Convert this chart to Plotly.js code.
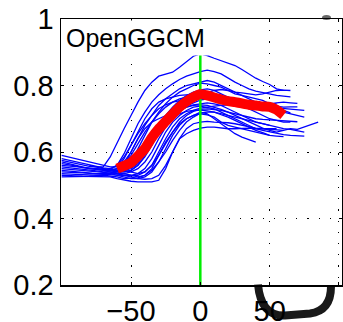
<!DOCTYPE html>
<html>
<head>
<meta charset="utf-8">
<script src="https://cdn.plot.ly/plotly-3.0.1.min.js"></script>
<style>html,body{margin:0;padding:0;background:#fff;}#chart{width:343px;height:322px;}</style>
</head>
<body>
<div id="chart"></div>
<script>
// ---- data ----
const panelLabel = "OpenGGCM";
const xTickVals = [-50, 0, 50, 100];
const xTickText = ["\u221250", "0", "50", ""];
const yTickVals = [0.2, 0.4, 0.6, 0.8, 1];
const yTickText = ["0.2", "0.4", "0.6", "0.8", "1"];
const sampleStep = 5;

// start time of each blue event curve (samples every 5 units)
const blueStarts = [-100, -100, -100, -80, -100, -70, -100, -100, -65, -100,
                    -100, -75, -100, -60, -100, -65, -100, -70, -100, -100];

const b01 = [.575,.57,.565,.56,.557,.555,.555,.585,.63,.67,.71,.75,.785,.81,.828,.835,.84,.855,.872,.888,.895,.89,.882,.875,.866,.86,.848,.835,.822,.812,.803,.79,.785];
const b02 = [.565,.562,.558,.553,.55,.548,.545,.548,.56,.595,.64,.685,.72,.75,.772,.79,.805,.818,.828,.836,.842,.846,.842,.835,.822,.81,.80,.79,.783,.778,.773,.77,.768,.766];
const b03 = [.59,.585,.58,.575,.57,.565,.56,.555,.555,.57,.60,.64,.68,.71,.74,.76,.775,.79,.80,.805,.81,.815,.81,.80,.79,.78,.77,.76,.75,.745,.74,.738,.735,.736,.736];
const b04 = [.56,.555,.55,.545,.545,.55,.57,.61,.65,.69,.72,.745,.765,.78,.79,.80,.807,.805,.80,.795,.785,.775,.77,.765,.76,.755,.745,.735,.725,.718];
const b05 = [.58,.575,.57,.565,.56,.555,.552,.55,.545,.545,.55,.565,.60,.64,.68,.71,.735,.755,.77,.78,.787,.79,.785,.775,.765,.755,.74,.73,.72,.71,.70,.695,.69,.69];
const b06 = [.55,.548,.545,.54,.545,.56,.59,.63,.665,.69,.71,.725,.735,.74,.742,.74,.735,.728,.72,.71,.70,.69,.68,.672,.665,.66,.665,.67,.668,.675,.682,.69];
const b07 = [.555,.553,.55,.548,.545,.543,.54,.54,.535,.53,.53,.535,.55,.58,.62,.66,.69,.71,.725,.735,.738,.735,.73,.72,.71,.70,.69,.68,.67,.665,.66,.655,.652,.65,.648,.648];
const b08 = [.545,.543,.54,.54,.538,.535,.535,.535,.53,.525,.52,.52,.525,.54,.57,.61,.65,.68,.70,.71,.715,.712,.705,.69,.68,.675,.67,.665,.66,.655,.65,.648,.646];
const b09 = [.55,.54,.535,.53,.525,.53,.55,.59,.63,.66,.685,.70,.71,.72,.715,.70,.685,.67,.655,.645,.638,.63];
const b10 = [.53,.53,.528,.527,.527,.527,.525,.525,.52,.515,.512,.51,.51,.51,.515,.55,.60,.64,.655,.665,.672,.675,.675,.672,.67,.67,.672,.672,.67,.67,.67,.67];
const b11 = [.525,.525,.525,.526,.527,.528,.53,.535,.54,.56,.60,.64,.67,.69,.70,.71,.72,.73,.74,.748,.756,.76,.758,.755,.752,.748,.745,.74,.738,.735,.733,.732,.73,.728,.726,.725];
const b12 = [.55,.548,.545,.55,.58,.62,.66,.70,.73,.75,.76,.765,.77,.772,.774,.775,.778,.785,.788,.785,.78,.778,.775,.772,.775,.78,.785,.786,.785];
const b13 = [.57,.565,.56,.555,.55,.548,.545,.543,.54,.54,.545,.56,.585,.62,.655,.685,.71,.725,.735,.742,.746,.748,.745,.74,.73,.72,.71,.70,.69,.685,.68];
const b14 = [.55,.545,.54,.535,.54,.56,.60,.64,.675,.70,.715,.725,.732,.736,.738,.74,.742,.745,.745,.742,.738,.735,.73,.725,.72,.715,.71,.705];
const b15 = [.535,.535,.533,.532,.53,.53,.53,.528,.525,.52,.52,.522,.53,.545,.57,.60,.635,.665,.69,.705,.717,.72,.72,.715,.71,.705,.70,.695,.69,.685,.68,.675,.67,.668,.665,.66];
const b16 = [.55,.56,.585,.62,.655,.685,.71,.73,.742,.75,.755,.758,.76,.76,.762,.76,.758,.755,.752,.75,.748,.745,.745,.745,.748,.75,.748,.746];
const b17 = [.55,.548,.547,.545,.543,.54,.538,.537,.535,.535,.54,.55,.57,.60,.64,.675,.70,.715,.722,.725,.726,.724,.72,.712,.705,.695,.685,.675,.665,.658,.65];
const b18 = [.545,.54,.535,.53,.525,.52,.518,.52,.53,.56,.60,.64,.67,.685,.69,.692,.69,.69,.688,.685,.68,.675,.672,.67,.668,.666,.665];
const b19 = [.56,.558,.556,.554,.552,.55,.548,.546,.55,.565,.59,.625,.66,.69,.715,.735,.75,.76,.765,.766,.766,.768,.77,.768,.765,.76,.755,.752,.75,.748,.746,.745];
const b20 = [.54,.54,.538,.537,.535,.534,.533,.532,.53,.528,.528,.53,.54,.56,.59,.625,.66,.69,.71,.722,.728,.73,.728,.725,.72,.715,.71,.705,.70,.698,.697,.696,.695,.693,.691];

// mean curve (red)
const meanX = [-60,-55,-50,-45,-40,-35,-30,-25,-20,-15,-10,-5,0,5,10,15,20,25,30,35,40,45,50,55,60];
const meanY = [.550,.558,.568,.588,.610,.643,.670,.692,.714,.735,.752,.765,.774,.770,.764,.758,.753,.750,.746,.742,.740,.737,.736,.727,.711];

// epoch marker (green)
const epochX = [0, 0];
const epochY = [0.2, 1];

// ---- build ----
const blueSeries = [b01,b02,b03,b04,b05,b06,b07,b08,b09,b10,b11,b12,b13,b14,b15,b16,b17,b18,b19,b20];
const traces = [];
blueSeries.forEach((ys, i) => {
  const xs = ys.map((_, j) => blueStarts[i] + j * sampleStep);
  traces.push({x: xs, y: ys, type: 'scatter', mode: 'lines',
    line: {color: '#0000ff', width: 1.3}, hoverinfo: 'skip', showlegend: false});
});
traces.push({x: epochX, y: epochY, type: 'scatter', mode: 'lines',
  line: {color: '#00ee00', width: 2.5}, showlegend: false, hoverinfo: 'skip'});
traces.push({x: meanX, y: meanY, type: 'scatter', mode: 'lines',
  line: {color: '#ff0000', width: 10, shape: 'spline', smoothing: 0.4}, showlegend: false, hoverinfo: 'skip'});

function px(x){ return (x - 61) / 281; }
function py(y){ return (284.5 - y) / 265.5; }
const uPath = `M ${px(258)},${py(284)} Q ${px(261)},${py(316)} ${px(285)},${py(315)} L ${px(310)},${py(313)} Q ${px(331)},${py(310)} ${px(331)},${py(286)}`;

const font = {family: 'Liberation Sans, Arial, Helvetica, sans-serif', color: '#000'};
const layout = {
  width: 343, height: 322,
  margin: {l: 61, r: 1, t: 19, b: 37, pad: 0},
  paper_bgcolor: '#fff', plot_bgcolor: '#fff',
  showlegend: false,
  font: font,
  xaxis: {
    range: [-100.5, 102.2], tickvals: xTickVals, ticktext: xTickText,
    showgrid: true, gridcolor: '#000', gridwidth: 1, griddash: '1.2px,10px',
    zeroline: false, showline: true, linecolor: '#000', linewidth: 1.5, mirror: 'ticks',
    ticks: 'inside', ticklen: 3, tickcolor: '#000', tickwidth: 1,
    tickfont: {family: font.family, size: 29, color: '#000'}
  },
  yaxis: {
    range: [0.2, 1], tickvals: yTickVals, ticktext: yTickText,
    showgrid: true, gridcolor: '#000', gridwidth: 1, griddash: '1.2px,10px',
    zeroline: false, showline: true, linecolor: '#000', linewidth: 1.5, mirror: 'ticks',
    ticks: 'inside', ticklen: 3, tickcolor: '#000', tickwidth: 1,
    tickfont: {family: font.family, size: 29, color: '#000'}
  },
  annotations: [{
    text: panelLabel, xref: 'paper', yref: 'paper', x: 0.004, y: 0.995,
    xanchor: 'left', yanchor: 'top', showarrow: false,
    bgcolor: '#fff', borderpad: 3,
    font: {family: font.family, size: 25, color: '#000'}
  }],
  shapes: [
    {type: 'path', xref: 'paper', yref: 'paper', path: uPath,
     line: {color: 'rgba(0,0,0,0.9)', width: 8}, layer: 'above'},
    {type: 'circle', xref: 'paper', yref: 'paper', x0: px(322), x1: px(331), y0: py(20), y1: py(15),
     fillcolor: 'rgba(0,0,0,0.6)', line: {width: 0}, layer: 'above'}
  ]
};
Plotly.newPlot('chart', traces, layout, {displayModeBar: false, staticPlot: true});
</script>
</body>
</html>
